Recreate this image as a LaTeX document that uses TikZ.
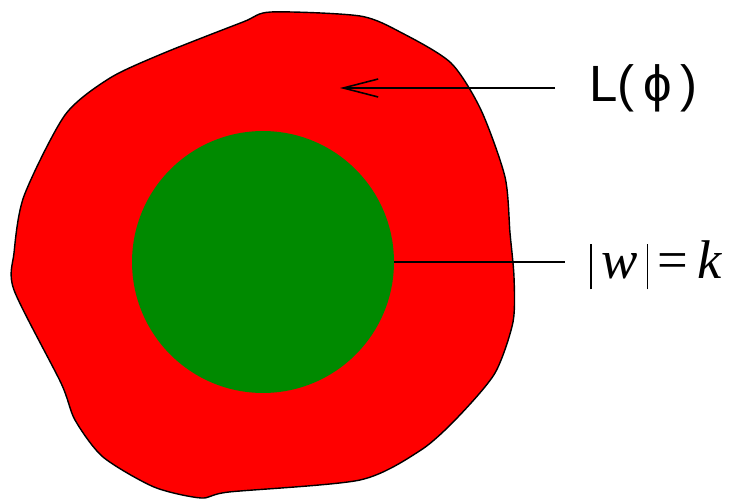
\documentclass[tikz,border=0pt]{standalone}
\usepackage{fontspec}
\usetikzlibrary{arrows.meta, positioning}
\newfontfamily\lblsans{Liberation Sans}
\newfontfamily\lblserif{Liberation Serif}
\definecolor{blobred}{RGB}{255,0,0}
\definecolor{ballgreen}{RGB}{0,138,0}
\newcommand{\normbar}{\rule[-0.22cm]{1pt}{0.9cm}}

\begin{document}
\begin{tikzpicture}[
    x=0.02cm, y=-0.02cm,
    blob/.style={draw=black, line width=0.8pt, fill=blobred},
    ball/.style={circle, fill=ballgreen, inner sep=0, minimum size=5.24cm},
    lbl/.style={font=\fontsize{29}{34}\selectfont, inner ysep=0},
    arrow/.style={-{Straight Barb[length=0.7cm, width=0.36cm]}, line width=0.9pt},
    link/.style={line width=0.9pt}
]
\useasboundingbox (0,0) rectangle (729,499);

% outer region
\draw[blob] plot[smooth cycle, tension=0.45] coordinates {
    (271,12) (360,16) (402,33) (451,63) (481,110) (505,177) (510,233)
    (514,277) (513,322) (495,373) (458,417) (421,450) (360,480) (229,492)
    (201,498) (154,487) (103,457) (75,420) (61,383) (14,290) (14,253)
    (24,196) (65,115) (110,78) (164,53) (243,22)};

% inner ball
\node[ball] (ball) at (263,262) {};

% labels
\node[lbl, anchor=west, inner xsep=0.68cm] (lphi) at (555,88) {\lblsans L(\,ϕ\,)};
\node[lbl, font=\fontsize{31}{36}\selectfont, anchor=west, inner xsep=0.5cm] (wk) at (565,265)
    {\lblserif \normbar\,\textit{w}\,\normbar\,=\,\textit{k}};
\coordinate (tip) at (340,88);

\draw[arrow] (lphi.west) -- (tip);
\draw[link] (ball.east) -- (ball.east -| wk.west);
\end{tikzpicture}
\end{document}
